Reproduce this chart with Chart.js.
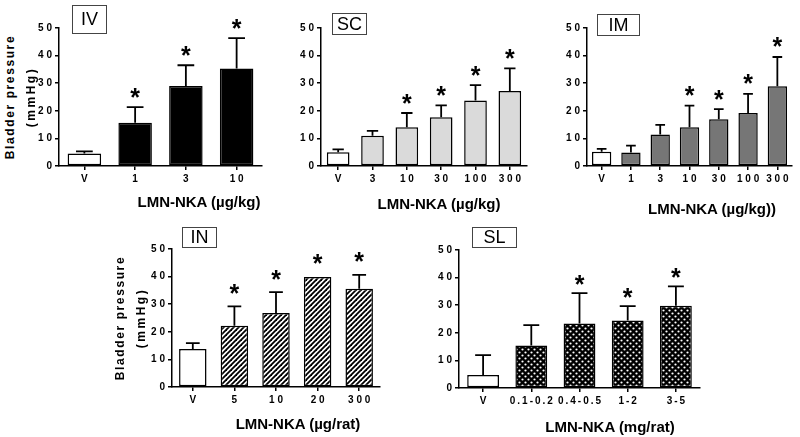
<!DOCTYPE html>
<html>
<head>
<meta charset="utf-8">
<script src="https://cdn.jsdelivr.net/npm/chart.js@4"></script>
<style>
  html, body { margin: 0; padding: 0; background: #fff; }
  #fig { position: relative; width: 800px; height: 437px; overflow: hidden; font-family: "Liberation Sans", Arial, sans-serif; color: #000; }
  .panel { position: absolute; }
  .box { position: absolute; border: 1px solid #444; box-sizing: border-box; display: flex; align-items: center; justify-content: center; font-size: 18px; }
  .xt { position: absolute; transform: translate(-50%, -50%); font-weight: bold; font-size: 15px; white-space: nowrap; }
  .yt { position: absolute; transform: translate(-50%, -50%) rotate(-90deg); font-weight: bold; font-size: 12px; white-space: nowrap; }
</style>
</head>
<body>
<div id="fig"></div>
<script>
// values (mean and upper error = SEM)
const ivLabels = ['V', '1', '3', '10'];
const ivMeans = [4.5, 15.7, 29.0, 35.3];
const ivSem = [0.8, 5.6, 7.5, 11.0];
const ivStars = [0, 1, 1, 1];

const scLabels = ['V', '3', '10', '30', '100', '300'];
const scMeans = [5.0, 11.0, 14.0, 17.7, 23.7, 27.2];
const scSem = [1.0, 1.7, 5.2, 4.3, 5.6, 8.2];
const scStars = [0, 0, 1, 1, 1, 1];

const imLabels = ['V', '1', '3', '10', '30', '100', '300'];
const imMeans = [5.2, 4.9, 11.4, 14.0, 16.9, 19.2, 28.9];
const imSem = [1.0, 2.5, 3.5, 7.9, 3.7, 6.9, 10.6];
const imStars = [0, 0, 0, 1, 1, 1, 1];

const inLabels = ['V', '5', '10', '20', '300'];
const inMeans = [13.8, 22.2, 26.8, 39.9, 35.6];
const inSem = [2.1, 7.0, 7.6, 0, 5.0];
const inStars = [0, 1, 1, 1, 1];

const slLabels = ['V', '0.1-0.2', '0.4-0.5', '1-2', '3-5'];
const slMeans = [4.7, 15.4, 23.4, 24.5, 29.8];
const slSem = [7.2, 7.4, 11.0, 5.2, 7.0];
const slStars = [0, 0, 1, 1, 1];

const yTicks = [0, 10, 20, 30, 40, 50];

const FONT = '"Liberation Sans", Arial, sans-serif';
const fig = document.getElementById('fig');

function spaced(s, sep) { return String(s).split('').join(sep || ' '); }

function hatch() {
  const c = document.createElement('canvas');
  c.width = 5; c.height = 5;
  const g = c.getContext('2d');
  g.fillStyle = '#fff'; g.fillRect(0, 0, 5, 5);
  g.strokeStyle = '#000'; g.lineWidth = 1.8;
  [[0, 5, 5, 0], [-5, 5, 5, -5], [0, 10, 10, 0]].forEach(([a, b, c2, d]) => {
    g.beginPath(); g.moveTo(a, b); g.lineTo(c2, d); g.stroke();
  });
  return g.createPattern(c, 'repeat');
}

function dots() {
  const c = document.createElement('canvas');
  c.width = 6; c.height = 6;
  const g = c.getContext('2d');
  g.fillStyle = '#000'; g.fillRect(0, 0, 6, 6);
  g.fillStyle = '#fff';
  [[1.5, 1.5], [4.5, 4.5]].forEach(([x, y]) => {
    g.beginPath(); g.arc(x, y, 1.1, 0, Math.PI * 2); g.fill();
  });
  return g.createPattern(c, 'repeat');
}

const errorBars = {
  id: 'errorBars',
  afterDatasetsDraw(chart, args, opts) {
    const ctx = chart.ctx, y = chart.scales.y;
    const meta = chart.getDatasetMeta(0);
    ctx.save();
    ctx.strokeStyle = '#000';
    ctx.lineWidth = 1.8;
    meta.data.forEach((bar, i) => {
      const m = opts.means[i], e = opts.sem[i];
      const yBar = y.getPixelForValue(m), yTop = y.getPixelForValue(m + e);
      if (e > 0) {
        const half = bar.width / 4;
        ctx.beginPath();
        ctx.moveTo(bar.x, yBar); ctx.lineTo(bar.x, yTop);
        ctx.moveTo(bar.x - half, yTop); ctx.lineTo(bar.x + half, yTop);
        ctx.stroke();
      }
      if (opts.stars[i]) {
        ctx.fillStyle = '#000';
        ctx.font = 'bold 25px ' + FONT;
        ctx.textAlign = 'center';
        ctx.textBaseline = 'alphabetic';
        ctx.fillText('*', bar.x, yTop - opts.gap + 14.5);
      }
    });
    ctx.restore();
  }
};

function panel(p) {
  const L = p.axisX - 40, T = p.topY - 10;
  const W = p.rightX - L + 10, H = p.zeroY - T + 32;
  const canvas = document.createElement('canvas');
  canvas.className = 'panel';
  canvas.width = W; canvas.height = H;
  canvas.style.left = L + 'px'; canvas.style.top = T + 'px';
  canvas.style.width = W + 'px'; canvas.style.height = H + 'px';
  fig.appendChild(canvas);

  const fills = p.means.map((v, i) => i === 0 ? '#fff' : p.fill);
  const tickFont = { family: FONT, size: 10, weight: 'bold' };
  const gridOpts = { display: true, drawOnChartArea: false, drawTicks: true, tickLength: 4, color: '#000', lineWidth: 1.5, offset: false };

  new Chart(canvas, {
    type: 'bar',
    data: {
      labels: p.labels,
      datasets: [{
        data: p.means,
        backgroundColor: fills,
        borderColor: '#000',
        borderWidth: 1.5,
        borderSkipped: false,
        barPercentage: 0.66,
        categoryPercentage: 1
      }]
    },
    options: {
      responsive: false,
      animation: false,
      devicePixelRatio: 1,
      layout: { padding: { left: 10, top: 10, right: 10, bottom: 2 } },
      plugins: {
        legend: { display: false },
        tooltip: { enabled: false },
        errorBars: { means: p.means, sem: p.sem, stars: p.stars, gap: p.gap }
      },
      scales: {
        x: {
          offset: true,
          grid: gridOpts,
          border: { display: true, color: '#000', width: 1.5 },
          ticks: { color: '#000', font: tickFont, padding: 3, maxRotation: 0, autoSkip: false,
                   callback: (v, i) => spaced(p.labels[i], p.tickSep) },
          afterFit: s => { s.height = 30; }
        },
        y: {
          min: 0, max: 50,
          afterBuildTicks: s => { s.ticks = yTicks.map(v => ({ value: v })); },
          grid: gridOpts,
          border: { display: true, color: '#000', width: 1.5 },
          ticks: { color: '#000', font: tickFont, padding: 3, callback: v => spaced(v) },
          afterFit: s => { s.width = 30; }
        }
      }
    },
    plugins: [errorBars]
  });

  const box = document.createElement('div');
  box.className = 'box';
  box.textContent = p.title;
  Object.assign(box.style, { left: p.box[0] + 'px', top: p.box[1] + 'px', width: p.box[2] + 'px', height: p.box[3] + 'px' });
  fig.appendChild(box);

  const xt = document.createElement('div');
  xt.className = 'xt';
  xt.textContent = p.xTitle;
  xt.style.left = p.xTitlePos[0] + 'px'; xt.style.top = p.xTitlePos[1] + 'px';
  fig.appendChild(xt);

  if (p.yTitle) {
    const mid = (p.topY + p.zeroY) / 2;
    const a = document.createElement('div');
    a.className = 'yt'; a.textContent = 'Bladder pressure';
    a.style.letterSpacing = '1.6px';
    a.style.left = p.yTitle[0] + 'px'; a.style.top = mid + 'px';
    fig.appendChild(a);
    const b = document.createElement('div');
    b.className = 'yt'; b.textContent = '(mmHg)';
    b.style.letterSpacing = '2.5px';
    b.style.left = p.yTitle[1] + 'px'; b.style.top = mid + 'px';
    fig.appendChild(b);
  }
}

panel({ title: 'IV', labels: ivLabels, means: ivMeans, sem: ivSem, stars: ivStars, fill: '#000',
        axisX: 59, topY: 28, zeroY: 166, rightX: 262, gap: 16,
        box: [72, 5, 35, 29], xTitle: 'LMN-NKA (µg/kg)', xTitlePos: [199, 201], yTitle: [10, 31] });
panel({ title: 'SC', labels: scLabels, means: scMeans, sem: scSem, stars: scStars, fill: '#dadada',
        axisX: 321, topY: 28, zeroY: 166, rightX: 527, gap: 16,
        box: [332, 13, 35, 22], xTitle: 'LMN-NKA (µg/kg)', xTitlePos: [439, 203] });
panel({ title: 'IM', labels: imLabels, means: imMeans, sem: imSem, stars: imStars, fill: '#767676',
        axisX: 587, topY: 28, zeroY: 166, rightX: 792, gap: 16,
        box: [597, 14, 43, 22], xTitle: 'LMN-NKA (µg/kg))', xTitlePos: [712, 208] });
panel({ title: 'IN', labels: inLabels, means: inMeans, sem: inSem, stars: inStars, fill: hatch(),
        axisX: 172, topY: 249, zeroY: 387, rightX: 380, gap: 19,
        box: [182, 227, 35, 21], xTitle: 'LMN-NKA (µg/rat)', xTitlePos: [298, 423], yTitle: [120, 141] });
panel({ title: 'SL', labels: slLabels, means: slMeans, sem: slSem, stars: slStars, fill: dots(),
        axisX: 459, topY: 250, zeroY: 388, rightX: 700, gap: 15, tickSep: '\u2009',
        box: [472, 227, 45, 21], xTitle: 'LMN-NKA (mg/rat)', xTitlePos: [610, 426] });
</script>
</body>
</html>
